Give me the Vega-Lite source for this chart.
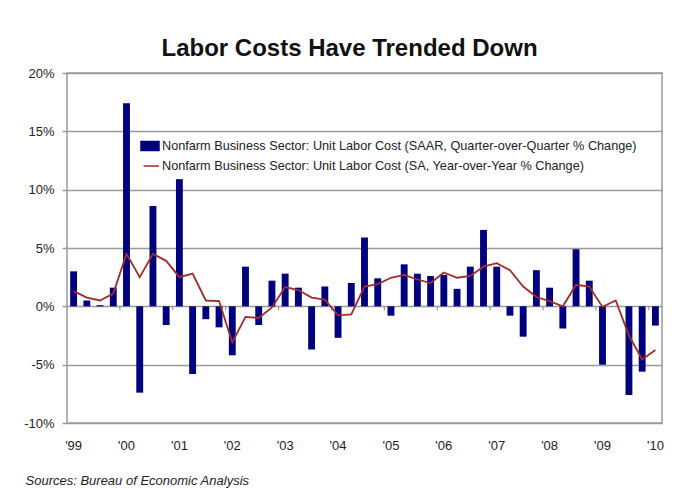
{
  "$schema": "https://vega.github.io/schema/vega-lite/v6.json",
  "width": 595,
  "height": 350,
  "autosize": "none",
  "padding": {"left": 67, "top": 73, "right": 27, "bottom": 66},
  "background": "white",
  "config": {
    "font": "Liberation Sans",
    "view": {"stroke": "#9a9a9a", "strokeWidth": 1.5}
  },
  "title": {
    "text": "Labor Costs Have Trended Down",
    "fontSize": 24,
    "fontWeight": "bold",
    "color": "#111111",
    "font": "Liberation Sans",
    "anchor": "middle",
    "baseline": "alphabetic",
    "offset": 11,
    "dx": -15,
    "dy": 24
  },
  "data": {
    "values": [
      {"q": "1999Q1", "qoq": 3.0, "yoy": 1.3},
      {"q": "1999Q2", "qoq": 0.5, "yoy": 0.75},
      {"q": "1999Q3", "qoq": 0.1, "yoy": 0.5},
      {"q": "1999Q4", "qoq": 1.6, "yoy": 1.1},
      {"q": "2000Q1", "qoq": 17.4, "yoy": 4.5},
      {"q": "2000Q2", "qoq": -7.4, "yoy": 2.5},
      {"q": "2000Q3", "qoq": 8.6, "yoy": 4.5},
      {"q": "2000Q4", "qoq": -1.6, "yoy": 3.9},
      {"q": "2001Q1", "qoq": 10.9, "yoy": 2.5},
      {"q": "2001Q2", "qoq": -5.8, "yoy": 2.8},
      {"q": "2001Q3", "qoq": -1.1, "yoy": 0.5},
      {"q": "2001Q4", "qoq": -1.8, "yoy": 0.45},
      {"q": "2002Q1", "qoq": -4.2, "yoy": -3.1},
      {"q": "2002Q2", "qoq": 3.4, "yoy": -0.9},
      {"q": "2002Q3", "qoq": -1.6, "yoy": -1.0},
      {"q": "2002Q4", "qoq": 2.2, "yoy": -0.1},
      {"q": "2003Q1", "qoq": 2.8, "yoy": 1.65},
      {"q": "2003Q2", "qoq": 1.6, "yoy": 1.4},
      {"q": "2003Q3", "qoq": -3.7, "yoy": 0.75},
      {"q": "2003Q4", "qoq": 1.7, "yoy": 0.57},
      {"q": "2004Q1", "qoq": -2.7, "yoy": -0.77},
      {"q": "2004Q2", "qoq": 2.0, "yoy": -0.7},
      {"q": "2004Q3", "qoq": 5.9, "yoy": 1.7},
      {"q": "2004Q4", "qoq": 2.4, "yoy": 1.9},
      {"q": "2005Q1", "qoq": -0.8, "yoy": 2.45},
      {"q": "2005Q2", "qoq": 3.6, "yoy": 2.7},
      {"q": "2005Q3", "qoq": 2.8, "yoy": 2.3},
      {"q": "2005Q4", "qoq": 2.6, "yoy": 2.0},
      {"q": "2006Q1", "qoq": 2.7, "yoy": 2.9},
      {"q": "2006Q2", "qoq": 1.5, "yoy": 2.45},
      {"q": "2006Q3", "qoq": 3.4, "yoy": 2.6},
      {"q": "2006Q4", "qoq": 6.55, "yoy": 3.4},
      {"q": "2007Q1", "qoq": 3.4, "yoy": 3.7},
      {"q": "2007Q2", "qoq": -0.8, "yoy": 3.1},
      {"q": "2007Q3", "qoq": -2.6, "yoy": 1.7},
      {"q": "2007Q4", "qoq": 3.1, "yoy": 0.8},
      {"q": "2008Q1", "qoq": 1.6, "yoy": 0.45},
      {"q": "2008Q2", "qoq": -1.9, "yoy": 0.0},
      {"q": "2008Q3", "qoq": 4.9, "yoy": 1.85},
      {"q": "2008Q4", "qoq": 2.2, "yoy": 1.7},
      {"q": "2009Q1", "qoq": -5.0, "yoy": -0.05},
      {"q": "2009Q2", "qoq": 0.0, "yoy": 0.5},
      {"q": "2009Q3", "qoq": -7.6, "yoy": -2.5},
      {"q": "2009Q4", "qoq": -5.6, "yoy": -4.55},
      {"q": "2010Q1", "qoq": -1.65, "yoy": -3.75}
    ]
  },
  "encoding": {
    "x": {
      "field": "q",
      "type": "ordinal",
      "sort": null,
      "scale": {"paddingInner": 0.48, "paddingOuter": 0.24},
      "axis": {
        "labelExpr": "slice(datum.value,4)=='Q1' ? \"'\" + slice(datum.value,2,4) : ''",
        "labelAngle": 0,
        "labelFontSize": 13,
        "labelColor": "#222222",
        "labelPadding": 16,
        "ticks": false,
        "domain": false,
        "title": "Sources: Bureau of Economic Analysis",
        "titleFontSize": 13,
        "titleFontStyle": "italic",
        "titleFontWeight": "normal",
        "titleColor": "#222222",
        "titleAnchor": "start",
        "titleAlign": "left",
        "titleBaseline": "middle",
        "titleX": -42,
        "titleY": 57
      }
    }
  },
  "layer": [
    {
      "mark": {"type": "bar"},
      "encoding": {
        "y": {
          "field": "qoq",
          "type": "quantitative",
          "scale": {"domain": [-10, 20], "nice": false},
          "axis": {
            "values": [-10, -5, 0, 5, 10, 15, 20],
            "labelExpr": "datum.value + '%'",
            "labelFontSize": 13,
            "labelColor": "#222222",
            "labelPadding": 8,
            "tickSize": 5,
            "tickColor": "#9a9a9a",
            "tickWidth": 1.5,
            "domain": false,
            "grid": true,
            "gridColor": "#9a9a9a",
            "gridWidth": 1.3,
            "title": null
          }
        },
        "color": {
          "datum": "Nonfarm Business Sector: Unit Labor Cost (SAAR, Quarter-over-Quarter % Change)",
          "scale": {
            "domain": [
              "Nonfarm Business Sector: Unit Labor Cost (SAAR, Quarter-over-Quarter % Change)",
              "Nonfarm Business Sector: Unit Labor Cost (SA, Year-over-Year % Change)"
            ],
            "range": ["#00007f", "#a02c2c"]
          },
          "legend": {
            "orient": "none",
            "legendX": 73,
            "legendY": 63,
            "title": null,
            "padding": 0,
            "labelFontSize": 12.7,
            "labelColor": "#222222",
            "labelLimit": 600,
            "labelOffset": 2,
            "symbolSize": 324,
            "rowPadding": 2,
            "encode": {
              "symbols": {
                "update": {
                  "shape": {"signal": "indexof(datum.value, 'SAAR') >= 0 ? 'M-1,-0.5H1V0.5H-1Z' : 'M-0.72,0H1'"},
                  "fill": {"signal": "indexof(datum.value, 'SAAR') >= 0 ? '#00007f' : 'transparent'"},
                  "stroke": {"signal": "indexof(datum.value, 'SAAR') >= 0 ? 'transparent' : '#a02c2c'"},
                  "strokeWidth": {"value": 1.5},
                  "opacity": {"value": 1},
                  "fillOpacity": {"value": 1}
                }
              }
            }
          }
        }
      }
    },
    {
      "mark": {"type": "rule", "strokeWidth": 1.2},
      "encoding": {"y": {"datum": 0}, "color": {"value": "#8a8a8a"}}
    },
    {
      "transform": [{"filter": "indexof(datum.q, 'Q1') > 0 && datum.q != '1999Q1'"}],
      "mark": {"type": "rule", "strokeWidth": 1},
      "encoding": {
        "x": {"field": "q", "type": "ordinal", "bandPosition": -0.46},
        "y": {"datum": 0},
        "y2": {"datum": -0.35},
        "color": {"value": "#8a8a8a"}
      }
    },
    {
      "mark": {"type": "line", "strokeWidth": 1.8},
      "encoding": {
        "y": {"field": "yoy", "type": "quantitative"},
        "color": {"datum": "Nonfarm Business Sector: Unit Labor Cost (SA, Year-over-Year % Change)"}
      }
    }
  ]
}
